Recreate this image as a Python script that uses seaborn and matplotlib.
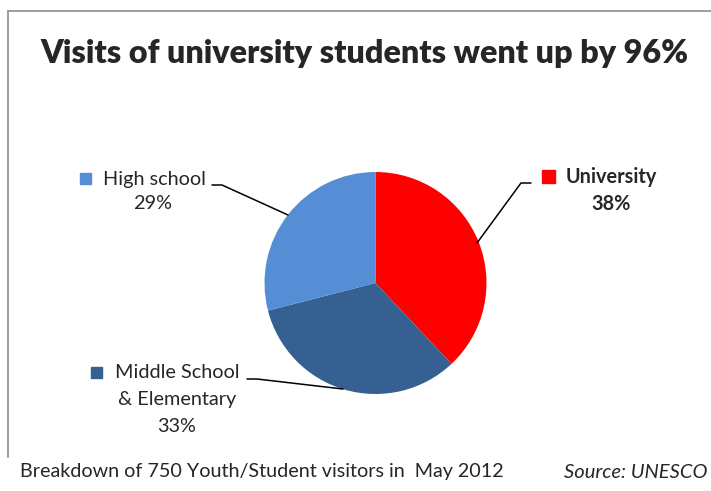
import matplotlib
matplotlib.use("Agg")
import matplotlib.pyplot as plt
import seaborn as sns
from matplotlib.lines import Line2D
from matplotlib.patches import Rectangle

categories = ["University", "Middle School\n& Elementary", "High school"]
values = [38, 33, 29]
colors = ["#FF0000", "#376092", "#558ED5"]
title = "Visits of university students went up by 96%"
footnote = "Breakdown of 750 Youth/Student visitors in  May 2012"
source = "Source: UNESCO"

sns.set_theme(style="white")
plt.rcParams['font.family'] = ['Lato', 'DejaVu Sans']

W, H = 711, 491
fig = plt.figure(figsize=(W / 100, H / 100), dpi=100)

def fx(x):
    return x / W

def fy(y):
    return 1 - y / H

cx, cy, r = 375.5, 283, 111
ax = fig.add_axes([fx(cx - r), fy(cy + r), 2 * r / W, 2 * r / H])
ax.pie(values, colors=sns.color_palette(colors), startangle=90, counterclock=False,
       radius=1, wedgeprops=dict(linewidth=0))
ax.set_xlim(-1, 1)
ax.set_ylim(-1, 1)
ax.set_aspect("equal")
ax.axis("off")

# frame lines
fig.add_artist(Line2D([fx(7.5), fx(7.5)], [fy(11), fy(457)], color="#8c8c8c", lw=1.2))
fig.add_artist(Line2D([fx(7.5), fx(711)], [fy(11), fy(11)], color="#8c8c8c", lw=1.2))

fig.text(fx(364), fy(53), title, ha="center", va="center", fontsize=23.2, fontweight="heavy")

# leader lines
def leader(pts):
    xs = [fx(p[0]) for p in pts]
    ys = [fy(p[1]) for p in pts]
    fig.add_artist(Line2D(xs, ys, color="black", lw=1.1))

leader([(212, 185), (222, 185), (288, 215)])
leader([(531, 183), (521, 183), (477, 243)])
leader([(247, 379), (257, 379), (343, 389)])

def marker(x0, y0, size, color):
    fig.add_artist(Rectangle((fx(x0), fy(y0 + size)), size / W, size / H,
                             color=color, transform=fig.transFigure))

fs = 14.3
# High school
marker(80, 173, 11, colors[2])
fig.text(fx(103), fy(180), "High school", ha="left", va="center", fontsize=fs)
fig.text(fx(153), fy(204), f"{values[2]}%", ha="center", va="center", fontsize=fs)
# University
marker(542, 170, 13, colors[0])
fig.text(fx(566), fy(177), "University", ha="left", va="center", fontsize=fs, fontweight="bold")
fig.text(fx(611), fy(204), f"{values[0]}%", ha="center", va="center", fontsize=fs, fontweight="bold")
# Middle school
marker(91, 367, 11, colors[1])
fig.text(fx(115), fy(373), "Middle School", ha="left", va="center", fontsize=fs)
fig.text(fx(177), fy(400), "& Elementary", ha="center", va="center", fontsize=fs)
fig.text(fx(177), fy(427), f"{values[1]}%", ha="center", va="center", fontsize=fs)

fig.text(fx(20), fy(472), footnote, ha="left", va="center", fontsize=14.2)
fig.text(fx(708), fy(472), source, ha="right", va="center", fontsize=14.5, style="italic")

fig.savefig("out.png", dpi=100)
